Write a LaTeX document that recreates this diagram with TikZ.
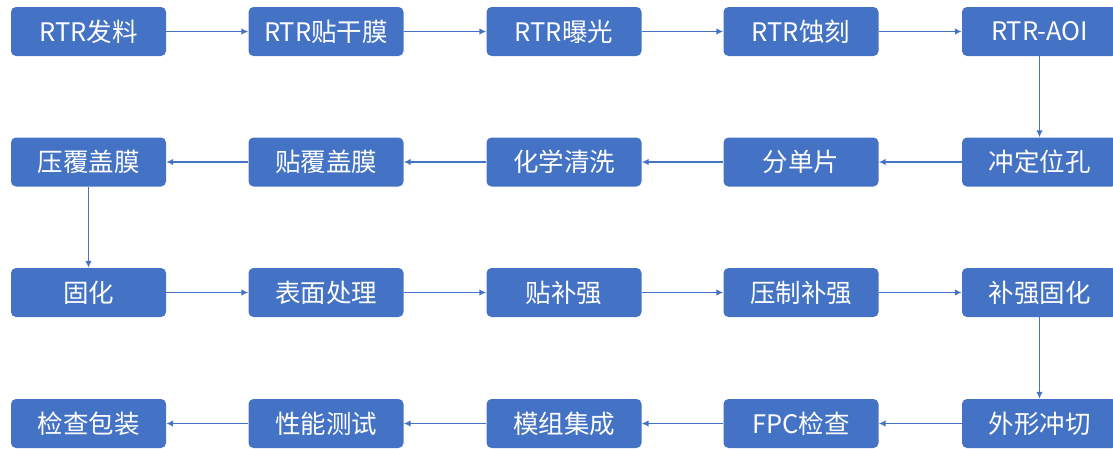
\documentclass[tikz,border=0pt]{standalone}
\usepackage{fontspec}
\setmainfont{Noto Sans CJK SC}
\usetikzlibrary{arrows.meta}
\definecolor{boxblue}{HTML}{4472C4}
\tikzset{
  stepbox/.style={fill=boxblue, draw=none, rounded corners=5pt, minimum width=155pt, minimum height=49pt, inner sep=0pt, text=white, font=\fontsize{25.5pt}{30pt}\selectfont},
  flow/.style={draw=boxblue, line width=1.6pt, -{Latex[length=7pt,width=6.5pt]}}
}
\begin{document}
\begin{tikzpicture}[x=1pt,y=1pt]
\useasboundingbox (0,0) rectangle (1113,-448);
% row 1
\node[stepbox] (a1) at (88.5,-31.5) {RTR发料};
\node[stepbox] (a2) at (326,-31.5) {RTR贴干膜};
\node[stepbox] (a3) at (564,-31.5) {RTR曝光};
\node[stepbox] (a4) at (801,-31.5) {RTR蚀刻};
\node[stepbox] (a5) at (1039.5,-31.5) {RTR-AOI};
% row 2
\node[stepbox] (b5) at (1039.5,-162) {冲定位孔};
\node[stepbox] (b4) at (801,-162) {分单片};
\node[stepbox] (b3) at (564,-162) {化学清洗};
\node[stepbox] (b2) at (326,-162) {贴覆盖膜};
\node[stepbox] (b1) at (88.5,-162) {压覆盖膜};
% row 3
\node[stepbox] (c1) at (88.5,-292.5) {固化};
\node[stepbox] (c2) at (326,-292.5) {表面处理};
\node[stepbox] (c3) at (564,-292.5) {贴补强};
\node[stepbox] (c4) at (801,-292.5) {压制补强};
\node[stepbox] (c5) at (1039.5,-292.5) {补强固化};
% row 4
\node[stepbox] (d5) at (1039.5,-423.5) {外形冲切};
\node[stepbox] (d4) at (801,-423.5) {FPC检查};
\node[stepbox] (d3) at (564,-423.5) {模组集成};
\node[stepbox] (d2) at (326,-423.5) {性能测试};
\node[stepbox] (d1) at (88.5,-423.5) {检查包装};
% connectors
\draw[flow] (a1) -- (a2);
\draw[flow] (a2) -- (a3);
\draw[flow] (a3) -- (a4);
\draw[flow] (a4) -- (a5);
\draw[flow] (a5) -- (b5);
\draw[flow] (b5) -- (b4);
\draw[flow] (b4) -- (b3);
\draw[flow] (b3) -- (b2);
\draw[flow] (b2) -- (b1);
\draw[flow] (b1) -- (c1);
\draw[flow] (c1) -- (c2);
\draw[flow] (c2) -- (c3);
\draw[flow] (c3) -- (c4);
\draw[flow] (c4) -- (c5);
\draw[flow] (c5) -- (d5);
\draw[flow] (d5) -- (d4);
\draw[flow] (d4) -- (d3);
\draw[flow] (d3) -- (d2);
\draw[flow] (d2) -- (d1);
\end{tikzpicture}
\end{document}
